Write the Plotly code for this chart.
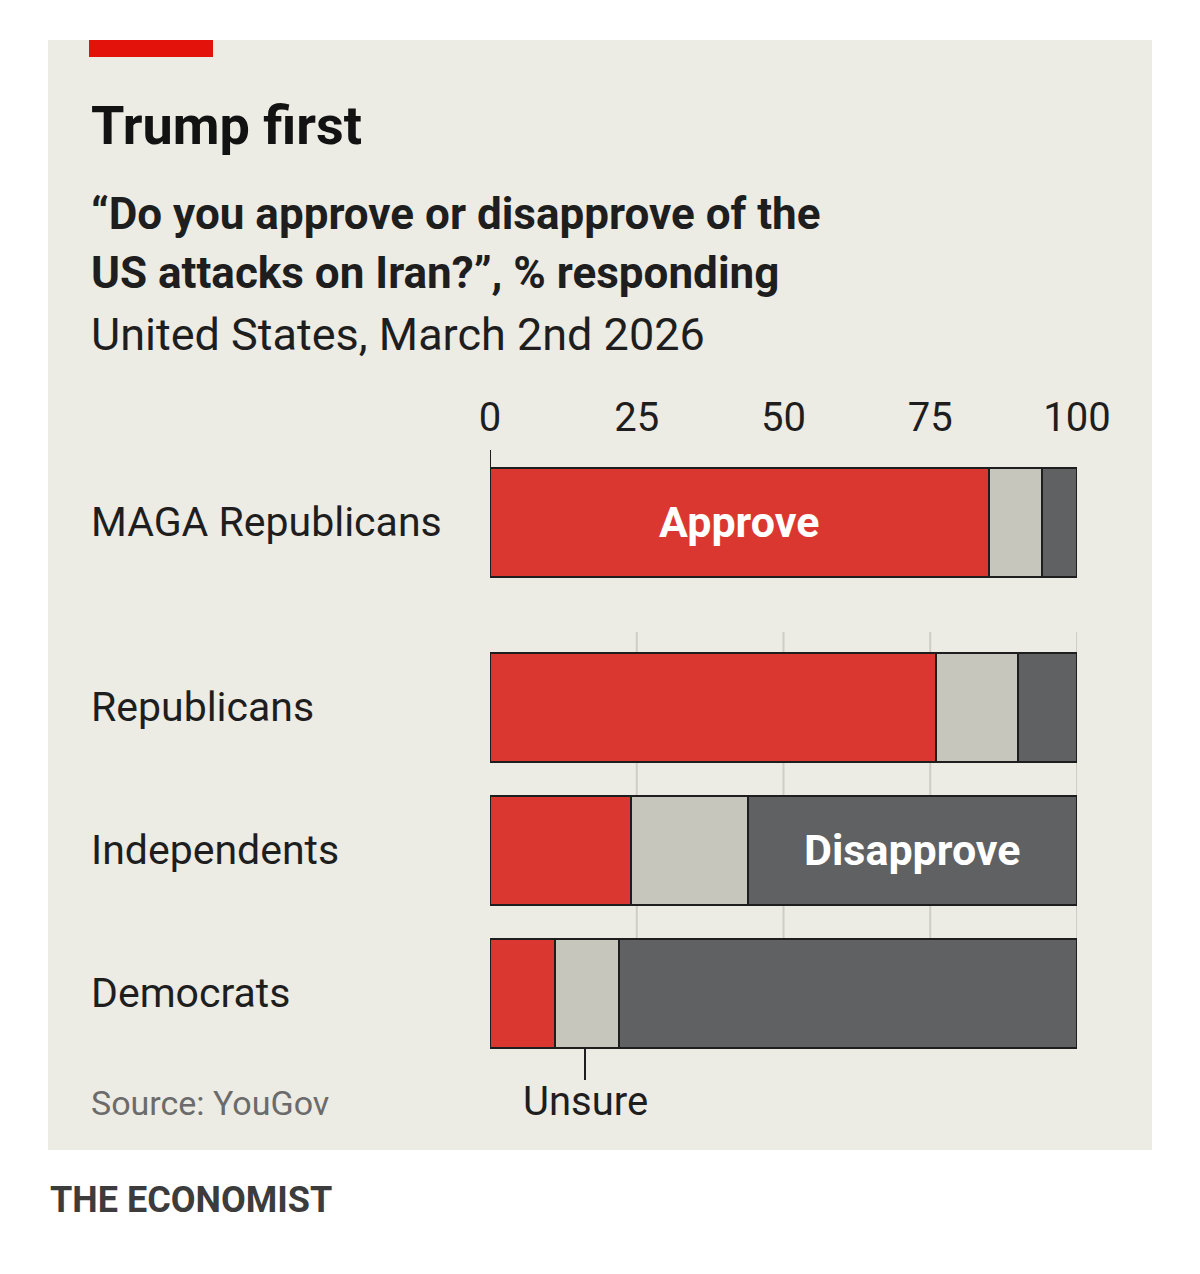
# %% imports
import plotly.graph_objects as go

# %% data
groups = ["MAGA Republicans", "Republicans", "Independents", "Democrats"]
approve = [85, 76, 24, 11]
unsure = [9, 14, 20, 11]
disapprove = [6, 10, 56, 78]
x_ticks = [0, 25, 50, 75, 100]

# %% layout helpers (pixel geometry of the plot area, page coords)
W, H = 1200, 1274
OFF = 8  # body margin of the page
L, R, T, B = 490, 1077, 440, 1060
bar_centres = [522, 707, 850, 993]   # y in pixel-like axis units
bar_w = 109

def px(p):  # page pixel x -> paper x
    return (p - L) / (R - L)

def py(p):  # page pixel y -> paper y
    return (B - p) / (B - T)

RED, GREY, DARK = "#db3731", "#c7c6bd", "#606163"
BG = "#ecebe4"
FONT = "Roboto"

fig = go.Figure()
for name, vals, col in [("Approve", approve, RED), ("Unsure", unsure, GREY),
                        ("Disapprove", disapprove, DARK)]:
    fig.add_bar(y=bar_centres, x=vals, orientation="h", width=bar_w, name=name,
                marker=dict(color=col, line=dict(color="#1e1e1e", width=2)))

shapes = [
    dict(type="rect", xref="paper", yref="paper", x0=px(48), x1=px(1152),
         y0=py(1150), y1=py(40), fillcolor=BG, line_width=0, layer="below"),
    dict(type="rect", xref="paper", yref="paper", x0=px(89), x1=px(213),
         y0=py(57), y1=py(40), fillcolor="#e3120b", line_width=0, layer="below"),
    dict(type="line", x0=0, x1=0, y0=450, y1=468, line=dict(color="#1e1e1e", width=2)),
    dict(type="line", xref="paper", yref="paper", x0=px(585), x1=px(585),
         y0=py(1048), y1=py(1080), line=dict(color="#1e1e1e", width=2)),
]
for t in x_ticks[1:]:
    shapes.append(dict(type="line", x0=t, x1=t, y0=632, y1=1048, layer="below",
                       line=dict(color="#cfcec6", width=2)))

ann = [
    dict(text="<b>Trump first</b>", x=px(89), y=py(125), size=54, color="#121212"),
    dict(text="<b>“Do you approve or disapprove of the</b>", x=px(89), y=py(214), size=44, color="#1e1e1e"),
    dict(text="<b>US attacks on Iran?”, % responding</b>", x=px(89), y=py(273), size=44, color="#1e1e1e"),
    dict(text="United States, March 2nd 2026", x=px(89), y=py(334), size=45, color="#1e1e1e"),
    dict(text="Source: YouGov", x=px(89), y=py(1103), size=34, color="#6b6b6b"),
    dict(text="<b>THE ECONOMIST</b>", x=px(48), y=py(1200), size=36, color="#3c3c3c"),
    dict(text="Unsure", x=px(585), y=py(1101), size=40, color="#1e1e1e", anchor="center"),
]
annotations = [dict(text=a["text"], xref="paper", yref="paper", x=a["x"], y=a["y"],
                    xanchor=a.get("anchor", "left"), yanchor="middle", showarrow=False,
                    font=dict(family=FONT, size=a["size"], color=a["color"])) for a in ann]
for g, yc in zip(groups, bar_centres):
    annotations.append(dict(text=g, xref="paper", yref="y", x=px(89), y=yc, xanchor="left",
                            showarrow=False, font=dict(family=FONT, size=41, color="#1e1e1e")))
annotations += [
    dict(text="<b>Approve</b>", x=approve[0] / 2, y=bar_centres[0], showarrow=False,
         font=dict(family=FONT, size=43, color="white")),
    dict(text="<b>Disapprove</b>", x=approve[2] + unsure[2] + disapprove[2] / 2, y=bar_centres[2],
         showarrow=False, font=dict(family=FONT, size=43, color="white")),
]

fig.update_layout(
    barmode="stack", width=W, height=H, showlegend=False,
    margin=dict(l=L - OFF, r=W - R + OFF, t=T - OFF, b=H - B + OFF),
    paper_bgcolor="white", plot_bgcolor="rgba(0,0,0,0)",
    xaxis=dict(range=[0, 100], side="top", tickvals=x_ticks, showgrid=False, zeroline=False,
               ticks="", tickfont=dict(family=FONT, size=40, color="#1e1e1e")),
    yaxis=dict(range=[B, T], visible=False),
    shapes=shapes, annotations=annotations,
)

fig.write_html("out.html")
